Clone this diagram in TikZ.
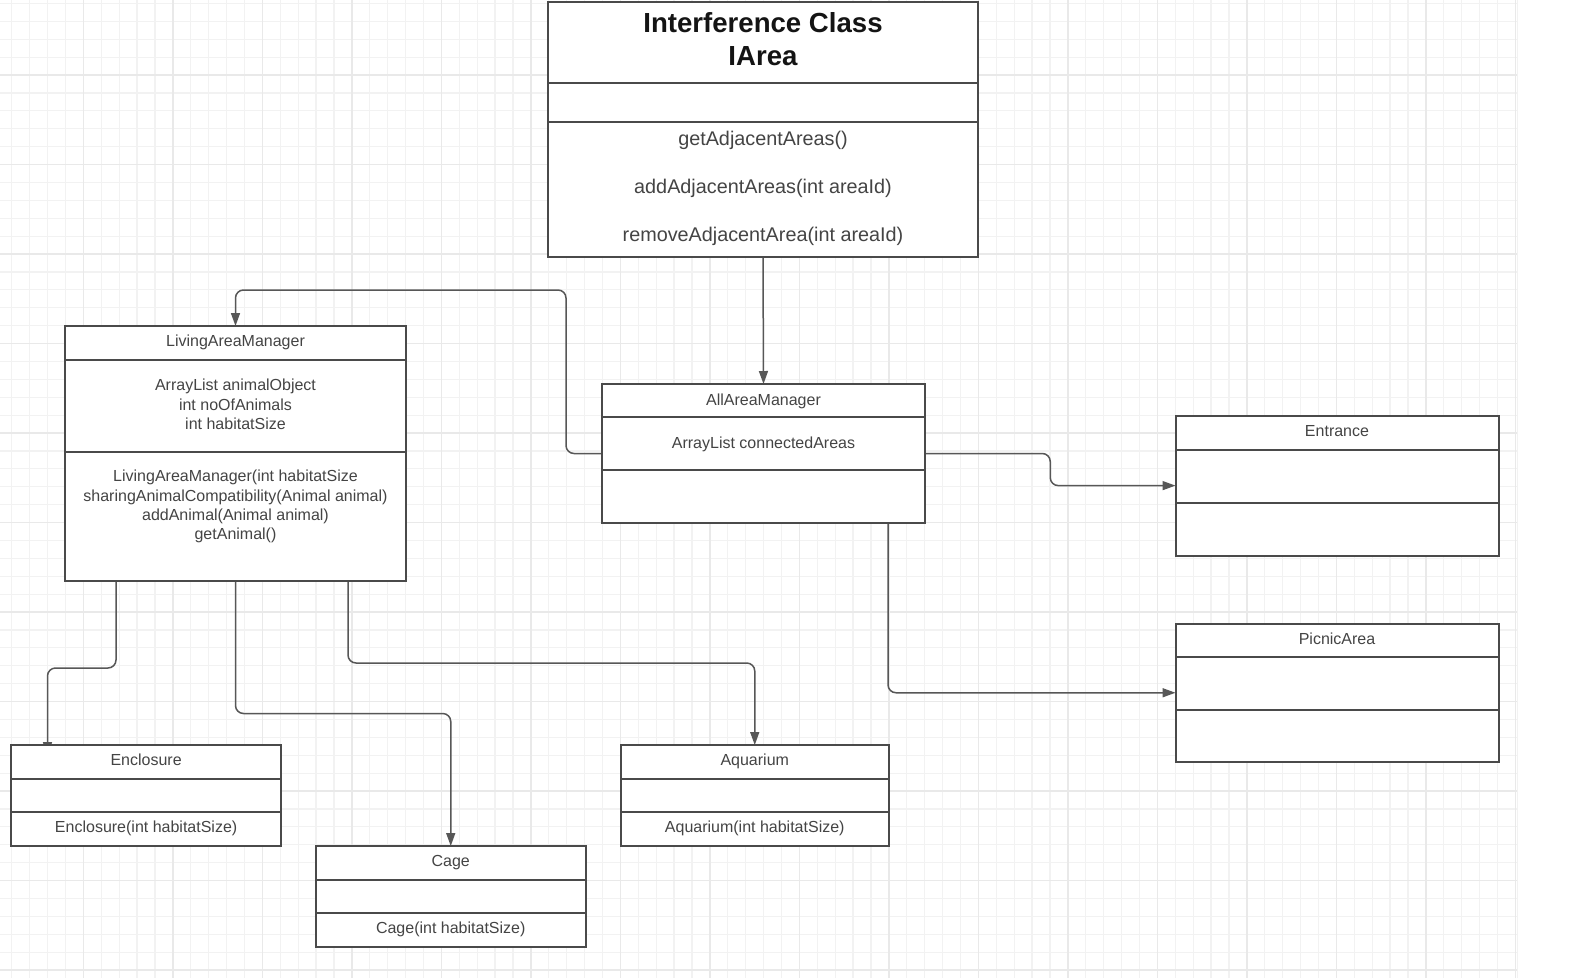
\documentclass[tikz,border=0pt]{standalone}
\usepackage{fontspec}
\setmainfont{Liberation Sans}
\usetikzlibrary{arrows.meta,calc}

\definecolor{gridminor}{HTML}{F2F2F2}
\definecolor{gridmajor}{HTML}{E9E9E9}
\definecolor{boxline}{HTML}{4A4A4A}
\definecolor{wire}{HTML}{575757}
\definecolor{ink}{HTML}{444444}

\pgfdeclarelayer{paper}
\pgfdeclarelayer{wires}
\pgfsetlayers{paper,wires,main}

\tikzset{
  classbox/.style={draw=boxline, line width=2pt, fill=white, inner sep=0pt,
    outer sep=0pt, anchor=north west},
  divider/.style={draw=boxline, line width=2pt},
  small/.style={text=ink, font=\fontsize{16}{19}\selectfont, inner sep=0pt, anchor=base},
  medium/.style={text=ink, font=\fontsize{19.8}{24}\selectfont, inner sep=0pt, anchor=base},
  heading/.style={text=black!92, font=\fontsize{27.6}{33}\selectfont\bfseries, inner sep=0pt, anchor=base},
  conn/.style={draw=wire, line width=1.5pt, rounded corners=8pt,
    -{Triangle[length=13pt,width=9pt]}},
}

\begin{document}
\begin{tikzpicture}[x=1pt,y=-1pt]
\useasboundingbox (0,0) rectangle (1582,978);

% squared paper background
\begin{pgfonlayer}{paper}
  \fill[white] (0,0) rectangle (1582,978);
  \foreach \i in {0,...,84}
    \draw[gridminor, line width=1.2pt] ({11.7+17.9*\i},0) -- ++(0,978);
  \foreach \j in {0,...,54}
    \draw[gridminor, line width=1.2pt] (0,{3.4+17.9*\j}) -- ++(1517,0);
  \foreach \i in {0,...,16}
    \draw[gridmajor, line width=1.5pt] ({83.3+89.5*\i},0) -- ++(0,978);
  \foreach \j in {0,...,10}
    \draw[gridmajor, line width=1.5pt] (0,{75+89.5*\j}) -- ++(1517,0);
  \draw[gridminor, line width=1pt] (1517,0) -- (1517,978);
\end{pgfonlayer}

% ---- IArea interface ----
\node[classbox, minimum width=430pt, minimum height=255pt] (ia) at (548,2) {};
\draw[divider] (ia.west |- 0,83) -- (ia.east |- 0,83);
\draw[divider] (ia.west |- 0,122) -- (ia.east |- 0,122);
\node[heading] (ia-t1) at (ia.north |- 0,32) {Interference Class};
\node[heading] (ia-t2) at (ia.north |- 0,65) {IArea};
\node[medium] (ia-m1) at (ia.north |- 0,145.7) {getAdjacentAreas()};
\node[medium] (ia-m2) at (ia.north |- 0,193.3) {addAdjacentAreas(int areaId)};
\node[medium] (ia-m3) at (ia.north |- 0,241.7) {removeAdjacentArea(int areaId)};

% ---- AllAreaManager ----
\node[classbox, minimum width=323pt, minimum height=139pt] (aam) at (602,384) {};
\draw[divider] (aam.west |- 0,417) -- (aam.east |- 0,417);
\draw[divider] (aam.west |- 0,470) -- (aam.east |- 0,470);
\node[small] (aam-t) at (aam.north |- 0,405) {AllAreaManager};
\node[small] (aam-a) at (aam.north |- 0,448.3) {ArrayList connectedAreas};

% ---- LivingAreaManager ----
\node[classbox, minimum width=341pt, minimum height=255pt] (lam) at (65,326) {};
\draw[divider] (lam.west |- 0,360) -- (lam.east |- 0,360);
\draw[divider] (lam.west |- 0,452) -- (lam.east |- 0,452);
\node[small] (lam-t) at (lam.north |- 0,346.7) {LivingAreaManager};
\node[small] (lam-a1) at (lam.north |- 0,390.7) {ArrayList animalObject};
\node[small] (lam-a2) at (lam.north |- 0,410) {int noOfAnimals};
\node[small] (lam-a3) at (lam.north |- 0,429.5) {int habitatSize};
\node[small] (lam-m1) at (lam.north |- 0,481.7) {LivingAreaManager(int habitatSize};
\node[small] (lam-m2) at (lam.north |- 0,501.2) {sharingAnimalCompatibility(Animal animal)};
\node[small] (lam-m3) at (lam.north |- 0,520.5) {addAnimal(Animal animal)};
\node[small] (lam-m4) at (lam.north |- 0,539.5) {getAnimal()};

% ---- Entrance ----
\node[classbox, minimum width=323pt, minimum height=139.8pt] (ent) at (1175.5,415.7) {};
\draw[divider] (ent.west |- 0,450) -- (ent.east |- 0,450);
\draw[divider] (ent.west |- 0,502.5) -- (ent.east |- 0,502.5);
\node[small] (ent-t) at (ent.north |- 0,436.7) {Entrance};

% ---- PicnicArea ----
\node[classbox, minimum width=323pt, minimum height=138.5pt] (pic) at (1175.5,623.5) {};
\draw[divider] (pic.west |- 0,657) -- (pic.east |- 0,657);
\draw[divider] (pic.west |- 0,710) -- (pic.east |- 0,710);
\node[small] (pic-t) at (pic.north |- 0,644) {PicnicArea};

% ---- Enclosure ----
\node[classbox, minimum width=269.7pt, minimum height=100.5pt] (enc) at (11.3,745) {};
\draw[divider] (enc.west |- 0,778.5) -- (enc.east |- 0,778.5);
\draw[divider] (enc.west |- 0,811.5) -- (enc.east |- 0,811.5);
\node[small] (enc-t) at (enc.north |- 0,765) {Enclosure};
\node[small] (enc-m) at (enc.north |- 0,832.7) {Enclosure(int habitatSize)};

% ---- Cage ----
\node[classbox, minimum width=269.5pt, minimum height=101pt] (cage) at (316,846) {};
\draw[divider] (cage.west |- 0,880) -- (cage.east |- 0,880);
\draw[divider] (cage.west |- 0,913) -- (cage.east |- 0,913);
\node[small] (cage-t) at (cage.north |- 0,866.7) {Cage};
\node[small] (cage-m) at (cage.north |- 0,933.3) {Cage(int habitatSize)};

% ---- Aquarium ----
\node[classbox, minimum width=268.5pt, minimum height=100.5pt] (aq) at (620.5,745) {};
\draw[divider] (aq.west |- 0,778.5) -- (aq.east |- 0,778.5);
\draw[divider] (aq.west |- 0,812) -- (aq.east |- 0,812);
\node[small] (aq-t) at (aq.north |- 0,765) {Aquarium};
\node[small] (aq-m) at (aq.north |- 0,832.7) {Aquarium(int habitatSize)};

% ---- connectors (beneath the boxes) ----
\begin{pgfonlayer}{wires}
  \draw[conn] (ia.south) -- (aam.north);
  \draw[conn] (aam.west) -| (566,290) -| (lam.north);
  \draw[conn] (aam.east) -| ($(aam.east)!.5!(ent.west)$) |- (ent.west);
  \draw[conn] (888,0 |- aam.south) |- (pic.west);
  \draw[conn, shorten >=-10pt] (116,0 |- lam.south) |- (47.5,668) -- (47.5,0 |- enc.north);
  \draw[conn] (lam.south) |- ($(lam.south)!.5!(cage.north)$) -| (cage.north);
  \draw[conn] (348,0 |- lam.south) |- (600,663) -| (aq.north);
\end{pgfonlayer}
\end{tikzpicture}
\end{document}
